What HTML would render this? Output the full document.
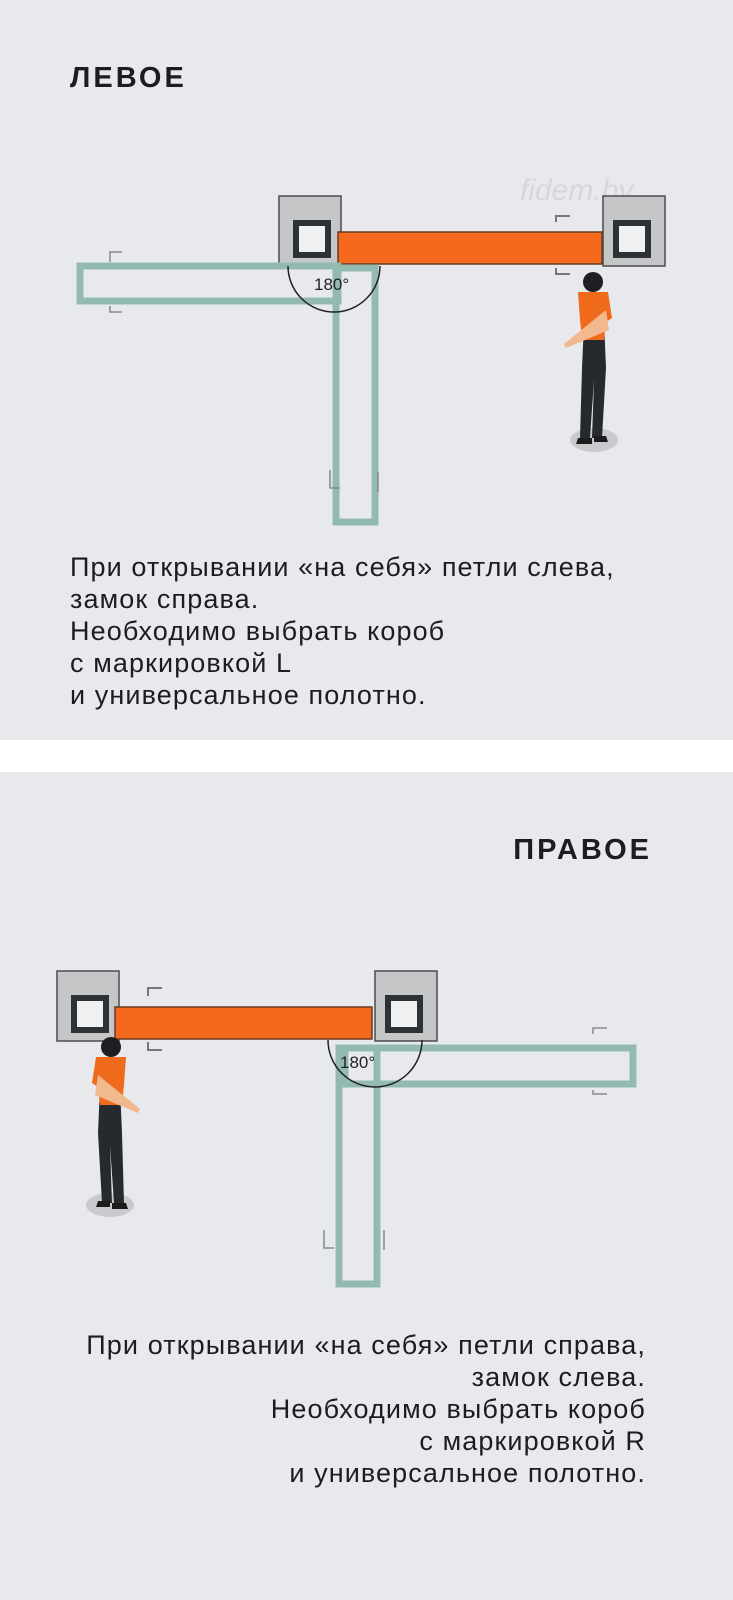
<!DOCTYPE html>
<html><head><meta charset="utf-8"><style>
html,body{margin:0;padding:0;width:733px;height:1600px;overflow:hidden;background:#fff}
svg{display:block}
text{font-family:"Liberation Sans",sans-serif}
</style></head><body>
<svg width="733" height="1600" viewBox="0 0 733 1600">
<defs>
<g id="person">
 <ellipse cx="0" cy="0" rx="24" ry="12" fill="#c9cacd"/>
 <path d="M-10 -118 L10 -118 L12 -72 L8 -2 L-2 -2 L0 -60 L-4 -2 L-14 -2 L-12 -72 Z" fill="#262a2e"/>
 <path d="M-16 -148 L14 -148 L18 -122 L12 -118 L10 -100 L-12 -100 L-14 -120 Z" fill="#f06a1c"/>
 <path d="M12 -130 L15 -110 L-28 -92 L-30 -96 Z" fill="#f2b98f"/>
 <circle cx="-1" cy="-158" r="10" fill="#1f1f22"/>
 <path d="M-16 -2 L-2 -2 L-2 4 L-18 4 Z M0 -4 L12 -4 L14 2 L0 2 Z" fill="#1c1c1c"/>
</g>
<g id="wall">
 <rect x="0" y="0" width="62" height="70" fill="#c4c6c7" stroke="#4a4c4e" stroke-width="1.5"/>
 <rect x="14" y="24" width="38" height="38" fill="#2e3234"/>
 <rect x="20" y="30" width="26" height="26" fill="#eef0f1"/>
</g>
</defs>
<rect x="0" y="0" width="733" height="740" fill="#e8e9ed"/>
<rect x="0" y="772" width="733" height="828" fill="#e8e9ed"/>

<!-- TOP -->
<text x="70" y="87" font-size="29" font-weight="bold" letter-spacing="3" fill="#1d1d1f">ЛЕВОЕ</text>
<text x="520" y="200" font-size="30" font-style="italic" fill="#d6d7da" font-family="Liberation Serif">fidem.by</text>
<use href="#wall" x="279" y="196"/>
<g transform="translate(665,196) scale(-1,1)"><use href="#wall" x="0" y="0"/></g>
<rect x="338" y="232" width="264" height="32" fill="#f4691d" stroke="#6a3a20" stroke-width="1.5"/>
<path d="M556 222 L556 216 L570 216 M556 268 L556 274 L570 274" stroke="#777" stroke-width="2" fill="none"/>
<rect x="80" y="266" width="258" height="35" fill="none" stroke="#93bab1" stroke-width="7"/>
<rect x="336" y="268" width="39" height="254" fill="none" stroke="#93bab1" stroke-width="7"/>
<path d="M288 266 A46 46 0 0 0 380 266" fill="none" stroke="#222" stroke-width="1.5"/>
<text x="314" y="290" font-size="17" fill="#222">180°</text>
<path d="M110 262 L110 252 L122 252 M110 306 L110 312 L122 312" stroke="#888" stroke-width="1.5" fill="none"/>
<path d="M330 470 L330 488 L340 488 M378 472 L378 492" stroke="#888" stroke-width="1.5" fill="none"/>
<use href="#person" x="594" y="440"/>
<g font-size="27" letter-spacing="1.1" fill="#1d1d1f">
<text x="70" y="576">При открывании «на себя» петли слева,</text>
<text x="70" y="608">замок справа.</text>
<text x="70" y="640">Необходимо выбрать короб</text>
<text x="70" y="672">с маркировкой L</text>
<text x="70" y="704">и универсальное полотно.</text>
</g>

<!-- BOTTOM -->
<text x="652" y="859" font-size="29" font-weight="bold" letter-spacing="3" fill="#1d1d1f" text-anchor="end">ПРАВОЕ</text>
<use href="#wall" x="57" y="971"/>
<g transform="translate(437,971) scale(-1,1)"><use href="#wall" x="0" y="0"/></g>
<rect x="115" y="1007" width="257" height="32" fill="#f4691d" stroke="#6a3a20" stroke-width="1.5"/>
<path d="M148 996 L148 988 L162 988 M148 1042 L148 1050 L162 1050" stroke="#777" stroke-width="2" fill="none"/>
<rect x="345" y="1048" width="288" height="36" fill="none" stroke="#93bab1" stroke-width="7"/>
<rect x="339" y="1048" width="38" height="236" fill="none" stroke="#93bab1" stroke-width="7"/>
<path d="M328 1040 A47 47 0 0 0 422 1040" fill="none" stroke="#222" stroke-width="1.5"/>
<text x="340" y="1068" font-size="17" fill="#222">180°</text>
<path d="M593 1034 L593 1028 L607 1028 M593 1090 L593 1094 L607 1094" stroke="#888" stroke-width="1.5" fill="none"/>
<path d="M324 1230 L324 1248 L334 1248 M384 1230 L384 1250" stroke="#888" stroke-width="1.5" fill="none"/>
<g transform="translate(110,1205) scale(-1,1)"><use href="#person" x="0" y="0"/></g>
<g font-size="27" letter-spacing="1.1" fill="#1d1d1f" text-anchor="end">
<text x="646" y="1354">При открывании «на себя» петли справа,</text>
<text x="646" y="1386">замок слева.</text>
<text x="646" y="1418">Необходимо выбрать короб</text>
<text x="646" y="1450">с маркировкой R</text>
<text x="646" y="1482">и универсальное полотно.</text>
</g>
</svg>
</body></html>
